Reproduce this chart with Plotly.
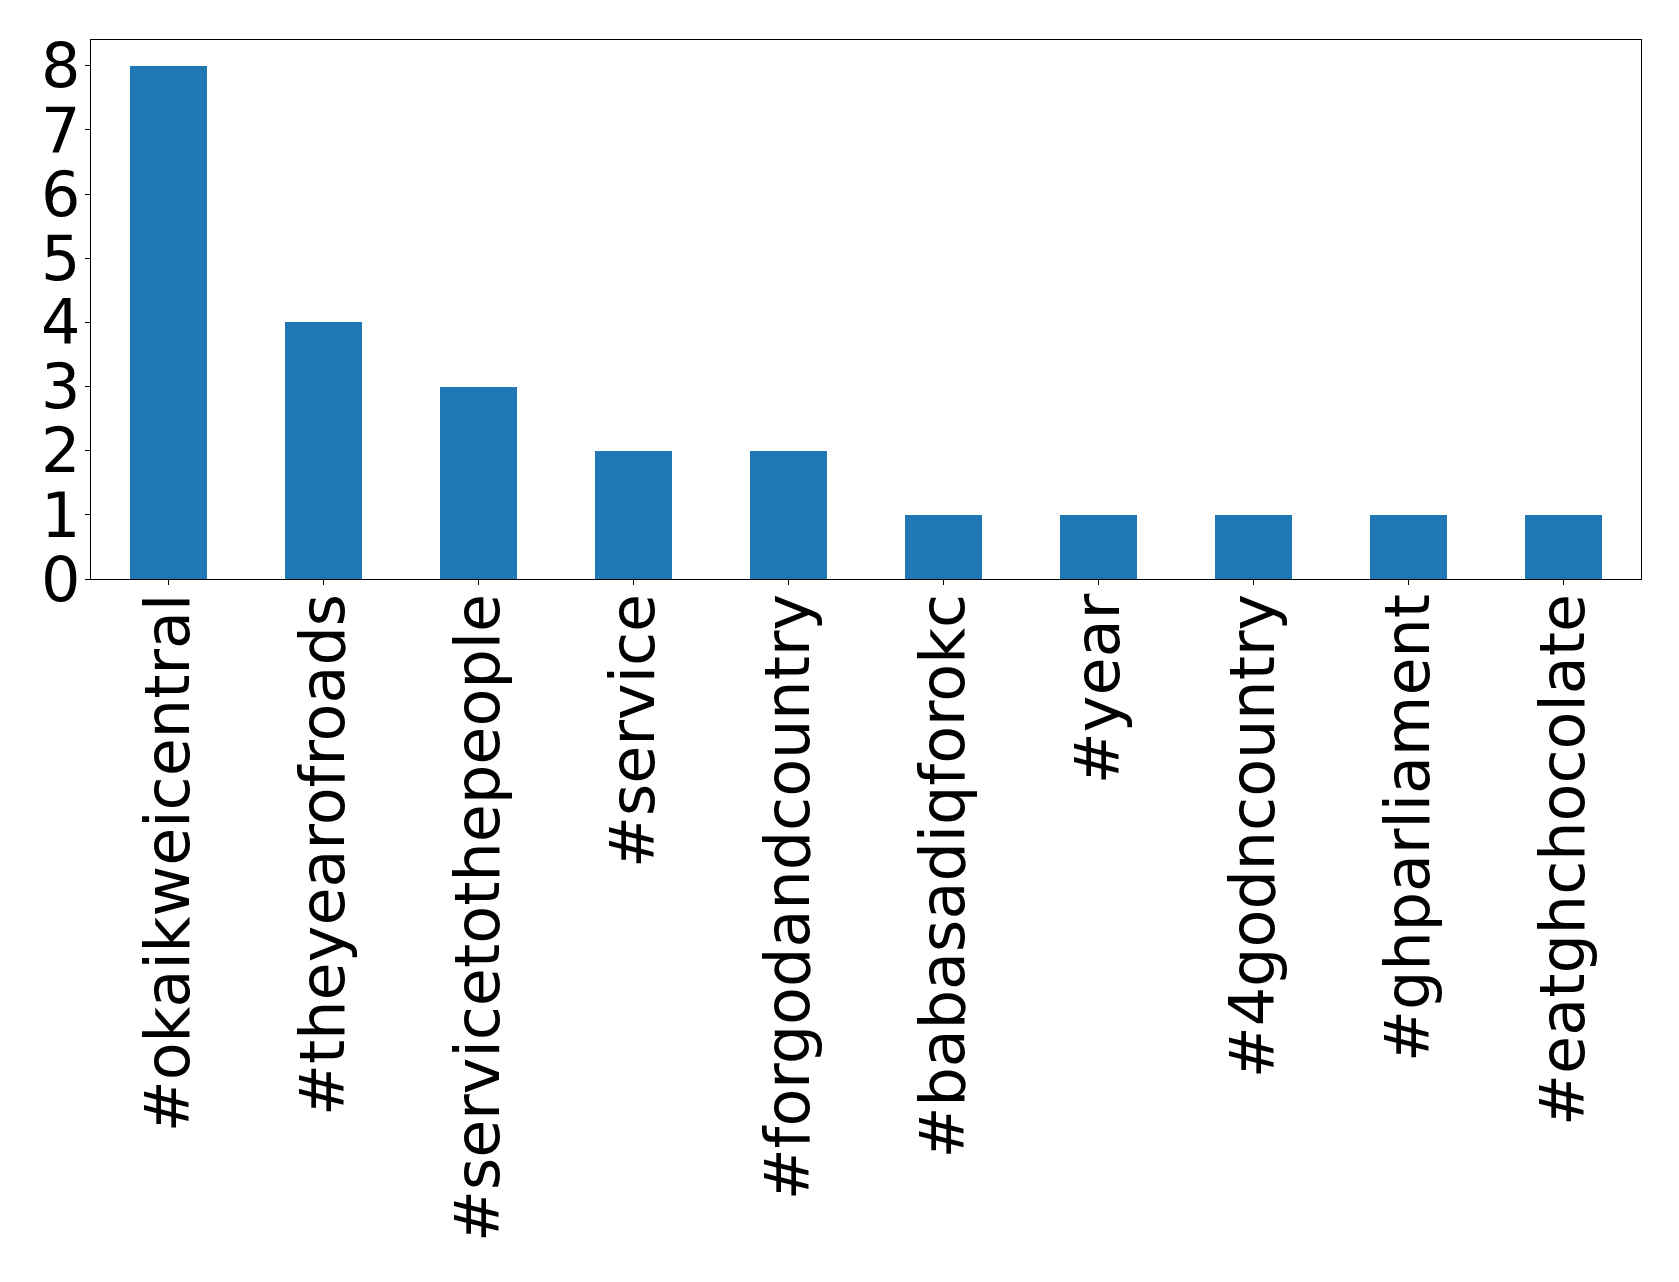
import plotly.graph_objects as go

categories = ["#okaikweicentral", "#theyearofroads", "#servicetothepeople", "#service",
              "#forgodandcountry", "#babasadiqforokc", "#year", "#4godncountry",
              "#ghparliament", "#eatghchocolate"]
counts = [8, 4, 3, 2, 2, 1, 1, 1, 1, 1]
y_ticks = [0, 1, 2, 3, 4, 5, 6, 7, 8]

fig = go.Figure(go.Bar(x=list(range(len(categories))), y=counts, width=0.5,
                       marker=dict(color="#1f77b4", line=dict(width=0))))

font = dict(family="DejaVu Sans", size=62, color="black")
fig.update_layout(
    width=1671, height=1274,
    margin=dict(l=83, r=38, t=32, b=703, autoexpand=False),
    paper_bgcolor="white", plot_bgcolor="white",
    showlegend=False,
    bargap=0,
)
fig.update_xaxes(
    tickmode="array", tickvals=list(range(len(categories))), ticktext=categories,
    range=[-0.5, 9.5], tickangle=-90, tickfont=font, automargin=False,
    ticks="outside", ticklen=5, tickwidth=1.1, tickcolor="black",
    ticklabelstandoff=-16,
    showline=True, linecolor="black", linewidth=1.1, mirror=True,
    showgrid=False, zeroline=False,
)
fig.update_yaxes(
    tickmode="array", tickvals=y_ticks, ticktext=[str(v) for v in y_ticks],
    range=[0, 8.4], tickfont=font, automargin=False,
    ticks="outside", ticklen=5, tickwidth=1.1, tickcolor="black",
    ticklabelstandoff=-8,
    showline=True, linecolor="black", linewidth=1.1, mirror=True,
    showgrid=False, zeroline=False,
)
fig.write_html("out.html")
